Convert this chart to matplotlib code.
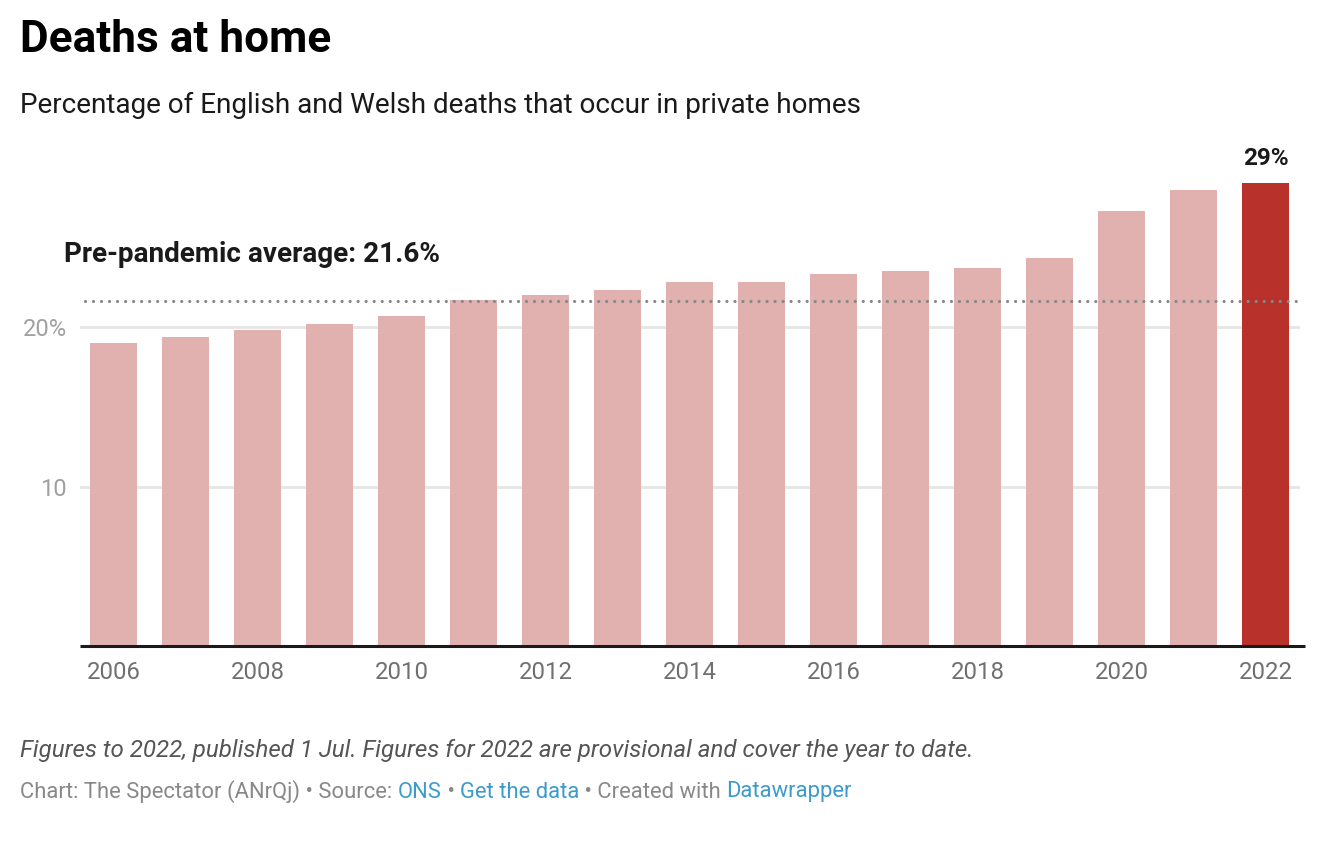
import numpy as np
import matplotlib
matplotlib.use("Agg")
import matplotlib.pyplot as plt

# ---------- Data ----------
years = list(range(2006, 2023))
pct_home = [19.0, 19.4, 19.8, 20.2, 20.7, 21.7, 22.0, 22.3, 22.8,
            22.8, 23.3, 23.5, 23.7, 24.3, 27.3, 28.6, 29.0]
prepandemic_avg = 21.6
highlight_year = 2022
ytick_vals = [10, 20]
ytick_labels = ["10", "20%"]
xtick_years = list(range(2006, 2023, 2))

# ---------- Style ----------
W, H, DPI = 1338, 850, 100
PINK = "#e1b1b0"
RED = "#b8312a"
plt.rcParams["font.family"] = ["Roboto", "DejaVu Sans"]

fig = plt.figure(figsize=(W / DPI, H / DPI), dpi=DPI)
fig.patch.set_facecolor("white")

# axes in pixel terms: left 80, right 1300, baseline 646, top at 30% -> 167
left_px, right_px, base_px, top_px = 80, 1300, 646, 167.5
ax = fig.add_axes([left_px / W, (H - base_px) / H,
                   (right_px - left_px) / W, (base_px - top_px) / H])

x = np.arange(len(years))
colors = [RED if y == highlight_year else PINK for y in years]
ax.bar(x, pct_home, width=0.653, color=colors, zorder=2)

# bar centres at 113.5 + 72*i px
step = 72.03
ax.set_xlim((left_px - 113.5) / step, (right_px - 113.5) / step)
ax.set_ylim(0, 30)

# gridlines
for v in ytick_vals:
    ax.axhline(v, color="#e6e6e6", lw=2, zorder=1)

# pre-pandemic average dotted line
ax.plot([(85 - 113.5) / step, (1298 - 113.5) / step], [prepandemic_avg] * 2,
        color="#888888", lw=2.3, ls=(0, (0.01, 2.5)), dash_capstyle="round",
        zorder=3, clip_on=False)

# baseline
ax.plot([(80 - 113.5) / step, (1305 - 113.5) / step], [0, 0],
        color="#1a1a1a", lw=2.2, zorder=4, clip_on=False, solid_capstyle="butt")

for s in ax.spines.values():
    s.set_visible(False)

ax.set_yticks(ytick_vals)
ax.set_yticklabels(ytick_labels)
ax.tick_params(axis="y", length=0, pad=9.5, labelsize=17, labelcolor="#a0a0a0")

ax.set_xticks([years.index(y) for y in xtick_years])
ax.set_xticklabels([str(y) for y in xtick_years])
ax.tick_params(axis="x", length=0, pad=11, labelsize=17.2, labelcolor="#707070")

# value label above highlighted bar
hi = years.index(highlight_year)
ax.annotate(f"{pct_home[hi]:.0f}%", (hi, pct_home[hi]), xytext=(0, 10),
            textcoords="offset points", ha="center", va="bottom",
            fontsize=17.5, fontweight="bold", color="#1a1a1a")

# annotation for average
fig.text(64 / W, 1 - 255 / H, f"Pre-pandemic average: {prepandemic_avg}%",
         ha="left", va="center", fontsize=20.1, fontweight="bold", color="#1a1a1a")

# ---------- Titles ----------
fig.text(20 / W, 1 - 40 / H, "Deaths at home", ha="left", va="center",
         fontsize=31.8, fontweight="bold", color="#000000")
fig.text(20 / W, 1 - 105 / H,
         "Percentage of English and Welsh deaths that occur in private homes",
         ha="left", va="center", fontsize=20.1, color="#1a1a1a")

# ---------- Footer ----------
fig.text(20 / W, 1 - 750 / H,
         "Figures to 2022, published 1 Jul. Figures for 2022 are provisional and cover the year to date.",
         ha="left", va="center", fontsize=17.4, style="italic", color="#555555")

footer = [("Chart: The Spectator (ANrQj) • Source: ", "#888888"),
          ("ONS", "#3c9bcb"), (" • ", "#888888"), ("Get the data", "#3c9bcb"),
          (" • Created with ", "#888888"), ("Datawrapper", "#3c9bcb")]
renderer = fig.canvas.get_renderer()
xpos = 20 / W
for txt, col in footer:
    t = fig.text(xpos, 1 - 792 / H, txt, ha="left", va="center",
                 fontsize=15.8, color=col)
    bb = t.get_window_extent(renderer=renderer)
    xpos += bb.width / W

fig.savefig("out.png", dpi=DPI, facecolor="white")
